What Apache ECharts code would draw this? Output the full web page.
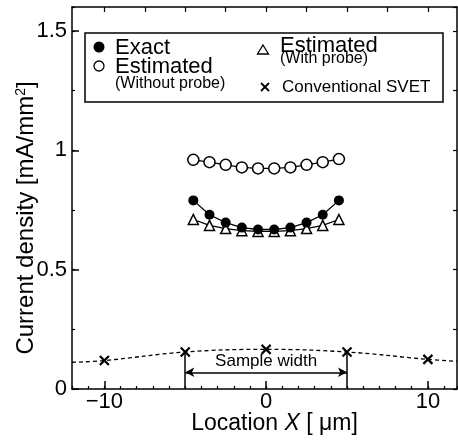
<!DOCTYPE html>
<html>
<head>
<meta charset="utf-8">
<script src="https://cdn.jsdelivr.net/npm/echarts@6/dist/echarts.min.js"></script>
<style>
html, body { margin: 0; padding: 0; background: #fff; }
#chart { width: 458px; height: 440px; }
</style>
</head>
<body>
<div id="chart"></div>
<script>
// probe positions inside the sample (um)
const profileX = [-4.5, -3.5, -2.5, -1.5, -0.5, 0.5, 1.5, 2.5, 3.5, 4.5];
const exact = [0.79, 0.73, 0.697, 0.676, 0.668, 0.668, 0.676, 0.697, 0.73, 0.79];
const estWithProbe = [0.71, 0.685, 0.672, 0.663, 0.66, 0.66, 0.663, 0.672, 0.685, 0.71];
const estWithoutProbe = [0.96, 0.95, 0.939, 0.928, 0.924, 0.924, 0.928, 0.939, 0.95, 0.963];

// conventional SVET points and the dashed curve through them
const svetX = [-10, -5, 0, 5, 10];
const svetY = [0.119, 0.155, 0.166, 0.155, 0.124];
const svetCurveX = [-12, -10, -5, 0, 5, 10, 11.8];
const svetCurveY = [0.112, 0.119, 0.155, 0.166, 0.155, 0.124, 0.116];

const sampleEdges = [-5, 5];
const sampleArrowY = 0.07;

const xTickLabels = [-10, 0, 10];
const xTopTicks = [-10, -7.5, -5, -2.5, 0, 2.5, 5, 7.5, 10];
const yTickLabels = [0, 0.5, 1, 1.5];

const seriesNames = ['Estimated (Without probe)', 'Estimated (With probe)', 'Exact', 'Conventional SVET'];

const font = '"Liberation Sans", Arial, Helvetica, sans-serif';
const pair = (xs, ys) => xs.map((x, i) => [x, ys[i]]);
const crossPath = 'path://M0,0L10,10M10,0L0,10';
const black = '#000';

const frame = { show: true, onZero: false, lineStyle: { color: black, width: 1.5 } };
const hiddenLine = { show: false, onZero: false };
const noSplit = { show: false };

const chart = echarts.init(document.getElementById('chart'));

chart.setOption({
  animation: false,
  backgroundColor: '#fff',
  grid: { left: 72, right: 1, top: 7, bottom: 50 },
  xAxis: [
    {
      type: 'value', min: -12, max: 11.8, interval: 1, position: 'bottom',
      axisLine: frame,
      axisTick: { inside: true, length: 3, lineStyle: { color: black, width: 1.2 } },
      axisLabel: { show: false },
      splitLine: noSplit,
      name: '{t|Location }{i|X}{t| [ μm]}',
      nameLocation: 'middle',
      nameGap: 23,
      nameTextStyle: {
        padding: [0, 0, 0, 20],
        rich: {
          t: { fontSize: 23, fontFamily: font, color: black },
          i: { fontSize: 23, fontFamily: font, fontStyle: 'italic', color: black }
        }
      }
    },
    {
      type: 'value', min: -12, max: 11.8, position: 'bottom',
      axisLine: hiddenLine,
      axisTick: { inside: true, length: 8, customValues: xTickLabels, lineStyle: { color: black, width: 1.5 } },
      axisLabel: {
        customValues: xTickLabels, margin: 2, fontSize: 22, fontFamily: font, color: black,
        formatter: v => (v < 0 ? '\u2212' + (-v) : String(v))
      },
      splitLine: noSplit
    },
    {
      type: 'value', min: -12, max: 11.8, position: 'top',
      axisLine: frame,
      axisTick: { inside: true, length: 5, customValues: xTopTicks, lineStyle: { color: black, width: 1.2 } },
      axisLabel: { show: false },
      splitLine: noSplit
    }
  ],
  yAxis: [
    {
      type: 'value', min: 0, max: 1.6, interval: 0.25, position: 'left',
      axisLine: frame,
      axisTick: { inside: true, length: 3, lineStyle: { color: black, width: 1.2 } },
      axisLabel: { show: false },
      splitLine: noSplit,
      name: '{t|Current density [mA/mm}{s|2}{t|]}',
      nameLocation: 'middle',
      nameRotate: 90,
      nameGap: 34,
      nameTextStyle: {
        padding: [0, 40, 0, 0],
        rich: {
          t: { fontSize: 24, fontFamily: font, color: black },
          s: { fontSize: 14, fontFamily: font, color: black, verticalAlign: 'top' }
        }
      }
    },
    {
      type: 'value', min: 0, max: 1.6, position: 'left',
      axisLine: hiddenLine,
      axisTick: { inside: true, length: 7, customValues: yTickLabels, lineStyle: { color: black, width: 1.5 } },
      axisLabel: { customValues: yTickLabels, margin: 5, fontSize: 22, fontFamily: font, color: black },
      splitLine: noSplit
    },
    {
      type: 'value', min: 0, max: 1.6, interval: 0.25, position: 'right',
      axisLine: frame,
      axisTick: { inside: true, length: 4, lineStyle: { color: black, width: 1.2 } },
      axisLabel: { show: false },
      splitLine: noSplit
    }
  ],
  series: [
    {
      name: seriesNames[0], type: 'line',
      data: pair(profileX, estWithoutProbe),
      symbol: 'circle', symbolSize: 11,
      itemStyle: { color: '#fff', borderColor: black, borderWidth: 1.5 },
      lineStyle: { color: black, width: 1.3 }
    },
    {
      name: seriesNames[1], type: 'line',
      data: pair(profileX, estWithProbe),
      symbol: 'triangle', symbolSize: 10,
      itemStyle: { color: '#fff', borderColor: black, borderWidth: 1.5 },
      lineStyle: { color: black, width: 1.3 }
    },
    {
      name: seriesNames[2], type: 'line',
      data: pair(profileX, exact),
      symbol: 'circle', symbolSize: 10,
      itemStyle: { color: black },
      lineStyle: { color: black, width: 1.3 }
    },
    {
      name: 'SVET curve', type: 'line',
      data: pair(svetCurveX, svetCurveY),
      smooth: 0.4, symbol: 'none',
      lineStyle: { color: black, width: 1.3, type: [4, 3] },
      markLine: {
        silent: true,
        symbol: 'none',
        lineStyle: { color: black, width: 1.5, type: 'solid' },
        label: { show: false },
        data: [
          [{ coord: [sampleEdges[0], 0] }, { coord: [sampleEdges[0], svetY[1]] }],
          [{ coord: [sampleEdges[1], 0] }, { coord: [sampleEdges[1], svetY[3]] }],
          [
            {
              coord: [sampleEdges[0], sampleArrowY], symbol: 'arrow', symbolSize: [7, 9],
              label: {
                show: true, position: 'middle', formatter: 'Sample width', distance: 2,
                fontSize: 17, fontFamily: font, color: black
              }
            },
            { coord: [sampleEdges[1], sampleArrowY], symbol: 'arrow', symbolSize: [7, 9] }
          ]
        ]
      }
    },
    {
      name: seriesNames[3], type: 'scatter',
      data: pair(svetX, svetY),
      symbol: crossPath, symbolSize: 9,
      itemStyle: { color: 'none', borderColor: black, borderWidth: 2.2, opacity: 1 }
    }
  ],
  graphic: [
    { type: 'rect', shape: { x: 85, y: 33, width: 358, height: 69 }, style: { fill: '#fff', stroke: black, lineWidth: 1.5 }, z: 10 },
    { type: 'circle', shape: { cx: 99, cy: 47, r: 5.5 }, style: { fill: black }, z: 11 },
    { type: 'text', x: 115, y: 48, style: { text: 'Exact', font: '22px ' + font, fill: black, verticalAlign: 'middle' }, z: 11 },
    { type: 'circle', shape: { cx: 99, cy: 66, r: 5 }, style: { fill: '#fff', stroke: black, lineWidth: 1.3 }, z: 11 },
    { type: 'text', x: 115, y: 67, style: { text: 'Estimated', font: '22px ' + font, fill: black, verticalAlign: 'middle' }, z: 11 },
    { type: 'text', x: 115, y: 84, style: { text: '(Without probe)', font: '16px ' + font, fill: black, verticalAlign: 'middle' }, z: 11 },
    { type: 'polygon', shape: { points: [[263, 45], [268.5, 54], [257.5, 54]] }, style: { fill: '#fff', stroke: black, lineWidth: 1.3 }, z: 11 },
    { type: 'text', x: 280, y: 46, style: { text: 'Estimated', font: '22px ' + font, fill: black, verticalAlign: 'middle' }, z: 11 },
    { type: 'text', x: 280, y: 59, style: { text: '(With probe)', font: '16px ' + font, fill: black, verticalAlign: 'middle' }, z: 11 },
    { type: 'line', shape: { x1: 261, y1: 83, x2: 269, y2: 91 }, style: { stroke: black, lineWidth: 1.8 }, z: 11 },
    { type: 'line', shape: { x1: 269, y1: 83, x2: 261, y2: 91 }, style: { stroke: black, lineWidth: 1.8 }, z: 11 },
    { type: 'text', x: 282, y: 87, style: { text: 'Conventional SVET', font: '17px ' + font, fill: black, verticalAlign: 'middle' }, z: 11 }
  ]
});
</script>
</body>
</html>
